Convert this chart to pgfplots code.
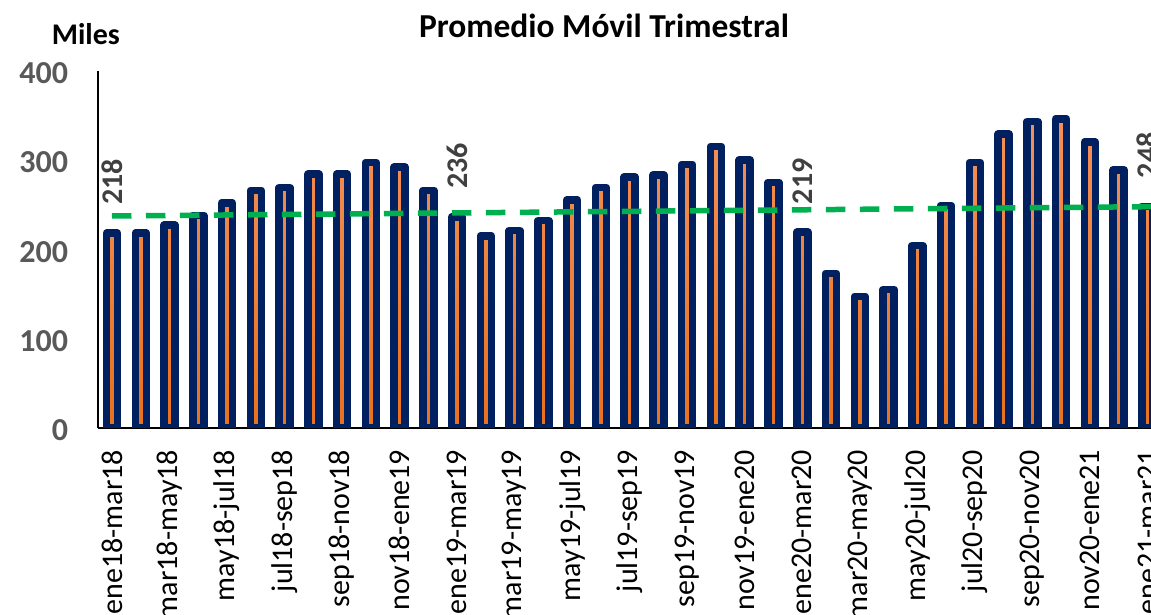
\documentclass[border=0pt]{standalone}
\usepackage{fontspec}
\setmainfont{Carlito}
\usepackage{pgfplots}
\usepackage{pgfplotstable}
\pgfplotsset{compat=1.18}
\definecolor{navy}{HTML}{002060}
\definecolor{trend}{HTML}{00B050}
\definecolor{ticklab}{HTML}{595959}
\definecolor{datalab}{HTML}{404040}
\definecolor{orTop}{HTML}{F4915A}
\definecolor{orBot}{HTML}{E8711C}

\pgfplotstableread{
x y
0 218
1 218
2 227
3 238
4 252
5 266
6 269
7 284
8 284
9 297
10 292
11 266
12 236
13 215
14 221
15 232
16 255
17 269
18 281
19 283
20 295
21 315
22 300
23 275
24 219
25 173
26 147
27 155
28 204
29 249
30 297
31 329
32 343
33 346
34 320
35 289
36 248
}\bars

\begin{document}
\begin{tikzpicture}
\begin{axis}[
  scale only axis, width=1066.3pt, height=357pt,
  xmin=-0.476, xmax=36.6, ymin=0, ymax=400,
  axis x line=bottom, axis y line=left,
  axis line style={-, black, line width=2pt},
  xtick={0,2,...,36},
  xticklabels={ene18-mar18,mar18-may18,may18-jul18,jul18-sep18,sep18-nov18,nov18-ene19,ene19-mar19,mar19-may19,may19-jul19,jul19-sep19,sep19-nov19,nov19-ene20,ene20-mar20,mar20-may20,may20-jul20,jul20-sep20,sep20-nov20,nov20-ene21,ene21-mar21},
  ytick={0,100,...,400},
  major tick length=0pt,
  /pgf/number format/assume math mode=true,
  xticklabel style={yshift=-22pt, rotate=90, anchor=east, inner sep=0pt, font=\fontsize{30}{30}\selectfont, text=black},
  yticklabel style={xshift=-30pt, yshift=-2.5pt, anchor=east, inner sep=0pt, font=\bfseries\fontsize{32}{32}\selectfont, text=ticklab},
]
\addplot[ybar, bar width=11pt, draw=navy, line width=7.5pt, line join=round, top color=orTop, bottom color=orBot] table[x=x,y=y] {\bars};
\addplot[trend, line width=5.5pt, dash pattern=on 19.5pt off 14.5pt, mark=none] coordinates {(0,237.2) (36.6,247.8)};
\addplot[draw=none, mark=none, nodes near coords,
  every node near coord/.append style={rotate=90, anchor=west, inner sep=0pt, xshift=28pt, font=\bfseries\fontsize{30}{30}\selectfont, text=datalab}]
  coordinates {(0,218) (12,236) (24,219) (36,248)};
\end{axis}
\node[anchor=base, inner sep=0pt, font=\bfseries\fontsize{33.5}{33.5}\selectfont] at (505.7pt,390.4pt) {Promedio Móvil Trimestral};
\node[anchor=base west, inner sep=0pt, font=\bfseries\fontsize{30}{30}\selectfont] at (-46.6pt,382.7pt) {Miles};
\pgfresetboundingbox
\path[use as bounding box] (-98.3pt,-187.3pt) rectangle (1052.7pt,427.7pt);
\end{tikzpicture}
\end{document}
